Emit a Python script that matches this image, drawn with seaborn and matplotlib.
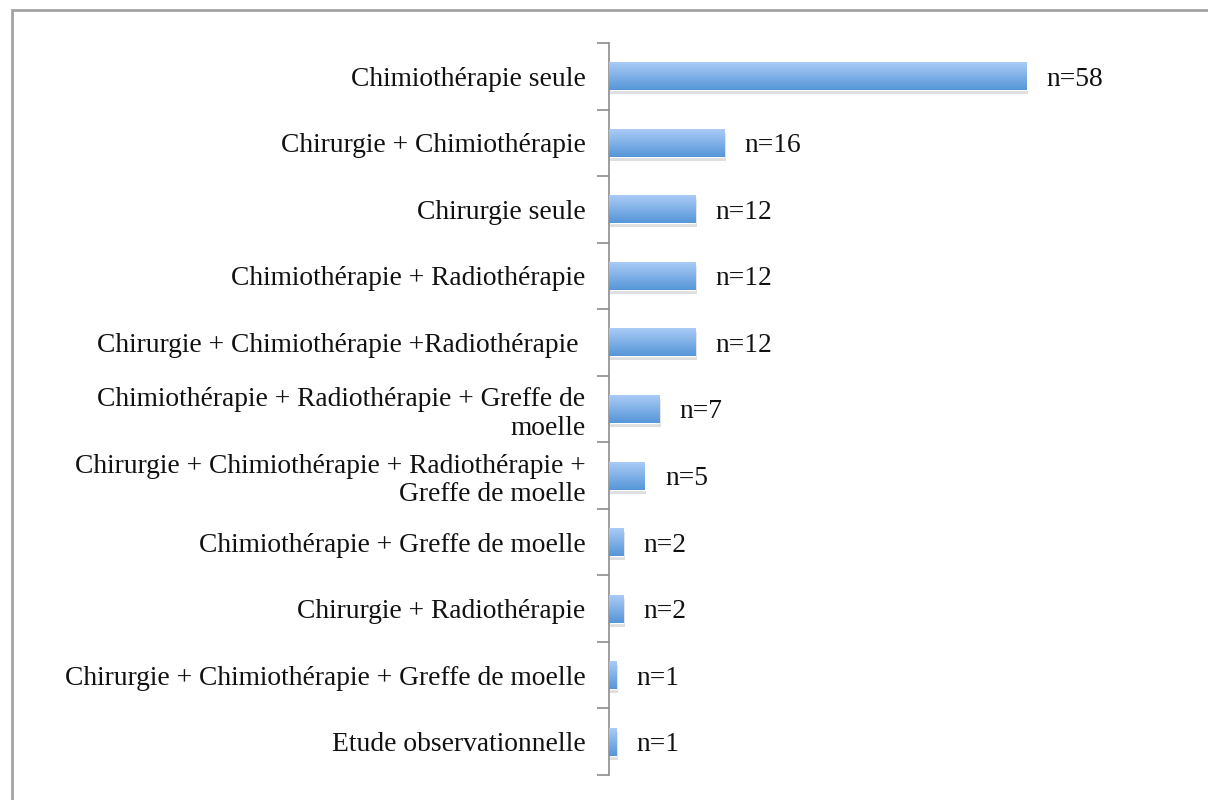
import matplotlib.pyplot as plt
import matplotlib.patches as mpatches
import numpy as np
import pandas as pd
import seaborn as sns
from matplotlib.colors import LinearSegmentedColormap

categories = [
    "Chimiothérapie seule",
    "Chirurgie + Chimiothérapie",
    "Chirurgie seule",
    "Chimiothérapie + Radiothérapie",
    "Chirurgie + Chimiothérapie +Radiothérapie ",
    "Chimiothérapie + Radiothérapie + Greffe de\nmoelle",
    "Chirurgie + Chimiothérapie + Radiothérapie +\nGreffe de moelle",
    "Chimiothérapie + Greffe de moelle",
    "Chirurgie + Radiothérapie",
    "Chirurgie + Chimiothérapie + Greffe de moelle",
    "Etude observationnelle",
]
counts = [58, 16, 12, 12, 12, 7, 5, 2, 2, 1, 1]
value_labels = [f"n={c}" for c in counts]

df = pd.DataFrame({"categorie": categories, "n": counts})

sns.set_style("white")
plt.rcParams["font.family"] = ["Liberation Serif", "DejaVu Serif"]
FS = 19.8

fig = plt.figure(figsize=(12.08, 8), dpi=100)
W, H = 1208, 800
ax = fig.add_axes([609 / W, 1 - 775 / H, (1185 - 609) / W, (775 - 43) / H])

sns.barplot(data=df, y="categorie", x="n", orient="h", color="#6fa7e6",
            width=0.42, ax=ax, saturation=1)

# gradient fill + soft shadow on each bar
grad = np.linspace(0, 1, 64).reshape(-1, 1)
cmap = LinearSegmentedColormap.from_list("bars", ["#a9cbf6", "#5696d8"])
for p in ax.patches:
    x0, y0 = p.get_x(), p.get_y()
    w, h = p.get_width(), p.get_height()
    shadow = mpatches.Rectangle((x0 + 0.2, y0 + 0.06), w, h, color="#c8c8c8",
                                alpha=0.6, zorder=1, linewidth=0)
    ax.add_patch(shadow)
    p.set_zorder(2)
    im = ax.imshow(grad, cmap=cmap, aspect="auto", extent=(x0, x0 + w, y0 + h, y0),
                   zorder=3)
    im.set_clip_path(p)

ax.set_xlim(0, 80)
ax.set_ylim(10.5, -0.5)

for i, lab in enumerate(value_labels):
    ax.annotate(lab, xy=(counts[i], i), xytext=(20, 0), textcoords="offset pixels",
                ha="left", va="center_baseline", fontsize=FS, color="#111111")

ax.set_xlabel("")
ax.set_ylabel("")
ax.set_xticks([])
ax.tick_params(axis="y", which="major", length=0, pad=17, labelsize=FS,
               labelcolor="#111111")
ax.set_yticks(range(len(categories)), labels=categories, linespacing=1.2)
ax.set_yticks(np.arange(-0.5, 11, 1), minor=True)
ax.tick_params(axis="y", which="minor", length=9, width=1.2, color="#8c8c8c", left=True)
for s in ["top", "right", "bottom"]:
    ax.spines[s].set_visible(False)
ax.spines["left"].set_color("#8c8c8c")
ax.spines["left"].set_linewidth(1.2)

# outer frame of the chart area
fig.patches.append(mpatches.Rectangle((12 / W, -0.05), 1.2, 1 - 10 / H + 0.05,
                                      transform=fig.transFigure, fill=False,
                                      edgecolor="#a3a3a3", linewidth=2))

fig.savefig("out.png", dpi=100)
